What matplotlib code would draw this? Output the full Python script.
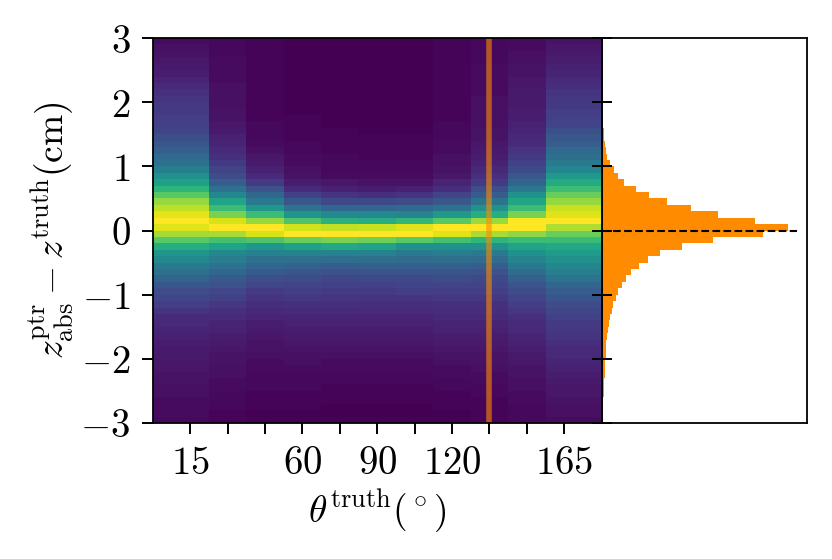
import numpy as np
import matplotlib
matplotlib.use("Agg")
import matplotlib.pyplot as plt

plt.rcParams['mathtext.fontset'] = 'cm'
plt.rcParams['font.family'] = 'serif'
plt.rcParams['font.serif'] = ['DejaVu Serif']

# theta bins (deg) and z residual bins (cm)
theta_edges = [0, 22.5, 37.5, 52.5, 67.5, 82.5, 97.5, 112.5, 127.5, 142.5, 157.5, 180]
dz_edges = np.linspace(-3, 3, 61)

# colour level of each cell, one list per theta bin, read from top (z=+3) to bottom (z=-3)
col1 = [0.03, 0.04, 0.05, 0.06, 0.07, 0.08, 0.10, 0.12, 0.14, 0.15,
        0.17, 0.17, 0.18, 0.19, 0.20, 0.24, 0.27, 0.30, 0.34, 0.37,
        0.42, 0.50, 0.57, 0.65, 0.74, 0.84, 0.90, 0.96, 1.00, 0.95,
        0.86, 0.74, 0.62, 0.52, 0.47, 0.41, 0.37, 0.32, 0.27, 0.23,
        0.21, 0.18, 0.15, 0.12, 0.11, 0.10,
        0.09, 0.08, 0.07, 0.07, 0.06, 0.06, 0.05, 0.05, 0.04, 0.04, 0.03, 0.03, 0.03, 0.02]
col2 = [0.02, 0.02, 0.02, 0.03, 0.03, 0.03, 0.03, 0.04, 0.04, 0.04,
        0.04, 0.05, 0.05, 0.06, 0.07, 0.09, 0.10, 0.12, 0.14, 0.17,
        0.20, 0.23, 0.29, 0.37, 0.46, 0.58, 0.68, 0.80, 0.94, 1.00,
        0.87, 0.70, 0.58, 0.47, 0.42, 0.37, 0.33, 0.28, 0.25, 0.21,
        0.19, 0.16, 0.14, 0.12, 0.10, 0.09,
        0.08, 0.07, 0.06, 0.05, 0.05, 0.04, 0.04, 0.03, 0.03, 0.02, 0.02, 0.02, 0.01, 0.01]
col3 = [0.01, 0.01, 0.01, 0.01, 0.01, 0.01, 0.01, 0.01, 0.01, 0.01,
        0.01, 0.01, 0.01, 0.02, 0.02, 0.02, 0.03, 0.04, 0.06, 0.07,
        0.09, 0.12, 0.17, 0.25, 0.33, 0.41, 0.53, 0.68, 0.84, 1.00,
        0.94, 0.72, 0.53, 0.44, 0.37, 0.33, 0.28, 0.24, 0.21, 0.17,
        0.15, 0.13, 0.11, 0.10, 0.08, 0.07,
        0.06, 0.05, 0.05, 0.04, 0.03, 0.03, 0.02, 0.02, 0.02, 0.01, 0.01, 0.01, 0.00, 0.00]
col4 = [0.00, 0.00, 0.00, 0.00, 0.00, 0.00, 0.00, 0.00, 0.00, 0.00,
        0.00, 0.00, 0.01, 0.01, 0.01, 0.01, 0.02, 0.02, 0.03, 0.03,
        0.04, 0.05, 0.08, 0.12, 0.19, 0.27, 0.38, 0.52, 0.72, 0.93,
        1.00, 0.77, 0.57, 0.45, 0.37, 0.31, 0.26, 0.23, 0.20, 0.18,
        0.16, 0.14, 0.12, 0.10, 0.09, 0.08,
        0.07, 0.06, 0.05, 0.04, 0.04, 0.03, 0.02, 0.02, 0.02, 0.01, 0.01, 0.01, 0.00, 0.00]
col5 = [0.00, 0.00, 0.00, 0.00, 0.00, 0.00, 0.00, 0.00, 0.00, 0.00,
        0.00, 0.00, 0.00, 0.00, 0.01, 0.01, 0.01, 0.01, 0.02, 0.02,
        0.02, 0.03, 0.06, 0.09, 0.15, 0.22, 0.33, 0.47, 0.64, 0.91,
        1.00, 0.80, 0.60, 0.44, 0.36, 0.29, 0.25, 0.21, 0.19, 0.17,
        0.15, 0.14, 0.12, 0.10, 0.09, 0.08,
        0.07, 0.06, 0.05, 0.04, 0.03, 0.03, 0.02, 0.02, 0.01, 0.01, 0.01, 0.00, 0.00, 0.00]
col6 = [0.00, 0.00, 0.00, 0.00, 0.00, 0.00, 0.00, 0.00, 0.00, 0.00,
        0.00, 0.00, 0.00, 0.00, 0.00, 0.01, 0.01, 0.01, 0.01, 0.02,
        0.02, 0.03, 0.05, 0.08, 0.14, 0.22, 0.33, 0.47, 0.62, 0.92,
        1.00, 0.78, 0.58, 0.44, 0.36, 0.30, 0.25, 0.22, 0.19, 0.17,
        0.15, 0.13, 0.12, 0.10, 0.09, 0.08,
        0.07, 0.06, 0.05, 0.04, 0.03, 0.03, 0.02, 0.02, 0.01, 0.01, 0.01, 0.00, 0.00, 0.00]
col7 = [0.00, 0.00, 0.00, 0.00, 0.00, 0.00, 0.00, 0.00, 0.00, 0.00,
        0.00, 0.00, 0.00, 0.00, 0.00, 0.01, 0.01, 0.01, 0.01, 0.02,
        0.02, 0.03, 0.05, 0.09, 0.15, 0.23, 0.34, 0.45, 0.66, 0.95,
        1.00, 0.74, 0.50, 0.41, 0.35, 0.30, 0.26, 0.22, 0.20, 0.18,
        0.15, 0.13, 0.12, 0.10, 0.09, 0.08,
        0.07, 0.06, 0.05, 0.04, 0.03, 0.03, 0.02, 0.02, 0.01, 0.01, 0.01, 0.00, 0.00, 0.00]
col8 = [0.01, 0.01, 0.01, 0.01, 0.01, 0.01, 0.01, 0.01, 0.01, 0.01,
        0.01, 0.01, 0.01, 0.02, 0.02, 0.02, 0.03, 0.03, 0.04, 0.04,
        0.05, 0.06, 0.10, 0.13, 0.20, 0.27, 0.38, 0.54, 0.74, 1.00,
        0.95, 0.70, 0.51, 0.42, 0.36, 0.30, 0.26, 0.23, 0.20, 0.18,
        0.16, 0.14, 0.13, 0.11, 0.10, 0.09,
        0.08, 0.07, 0.06, 0.05, 0.04, 0.03, 0.03, 0.02, 0.02, 0.01, 0.01, 0.01, 0.00, 0.00]
col9 = [0.02, 0.02, 0.02, 0.02, 0.03, 0.03, 0.03, 0.03, 0.03, 0.04,
        0.04, 0.04, 0.04, 0.04, 0.05, 0.05, 0.06, 0.07, 0.08, 0.09,
        0.11, 0.14, 0.17, 0.24, 0.29, 0.38, 0.50, 0.62, 0.85, 1.00,
        0.87, 0.65, 0.50, 0.41, 0.35, 0.29, 0.25, 0.22, 0.20, 0.18,
        0.16, 0.14, 0.13, 0.12, 0.10, 0.09,
        0.08, 0.07, 0.06, 0.05, 0.05, 0.04, 0.03, 0.03, 0.02, 0.02, 0.01, 0.01, 0.01, 0.01]
col10 = [0.03, 0.03, 0.04, 0.04, 0.05, 0.05, 0.06, 0.06, 0.07, 0.07,
         0.07, 0.08, 0.08, 0.09, 0.10, 0.11, 0.12, 0.15, 0.17, 0.19,
         0.22, 0.27, 0.32, 0.40, 0.50, 0.59, 0.68, 0.80, 1.00, 1.00,
         0.83, 0.68, 0.58, 0.51, 0.45, 0.40, 0.35, 0.30, 0.26, 0.23,
         0.20, 0.18, 0.16, 0.14, 0.12, 0.11,
         0.10, 0.09, 0.08, 0.07, 0.06, 0.05, 0.05, 0.04, 0.04, 0.03, 0.03, 0.02, 0.02, 0.02]
col11 = [0.05, 0.06, 0.07, 0.08, 0.09, 0.10, 0.12, 0.13, 0.15, 0.16,
         0.17, 0.18, 0.19, 0.20, 0.24, 0.27, 0.29, 0.34, 0.36, 0.41,
         0.46, 0.54, 0.61, 0.69, 0.77, 0.84, 0.92, 0.95, 1.00, 0.88,
         0.77, 0.68, 0.60, 0.55, 0.50, 0.46, 0.42, 0.38, 0.33, 0.29,
         0.26, 0.23, 0.21, 0.19, 0.17, 0.16,
         0.15, 0.13, 0.12, 0.11, 0.10, 0.09, 0.08, 0.07, 0.06, 0.06, 0.05, 0.04, 0.04, 0.03]

# projection on z residual, bins from -3 to 3 (arbitrary units)
side_counts = [0.6, 1.0, 1.4, 1.7, 2.0, 2.3, 2.7, 3.0, 3.4, 3.7,
               4.0, 4.3, 4.7, 5.3, 6.3, 7.3, 8.3, 10.0, 11.7, 14.0,
               16.0, 20.3, 24.3, 29.0, 37.0, 46.0, 58.0, 79.7, 111.0, 161.3,
               185.7, 153.0, 116.0, 88.7, 64.7, 47.0, 34.0, 22.3, 16.3, 12.0,
               8.7, 5.3, 4.0, 3.3, 2.7, 2.0, 1.0, 0, 0, 0,
               0, 0, 0, 0, 0, 0, 0, 0, 0, 0]

theta_cut = 135
x_ticks = [15, 30, 45, 60, 75, 90, 105, 120, 135, 150, 165]
x_labels = ['$15$', '', '', '$60$', '', '$90$', '', '$120$', '', '', '$165$']
y_ticks = [-3, -2, -1, 0, 1, 2, 3]

cols = [col1, col2, col3, col4, col5, col6, col7, col8, col9, col10, col11]
Z = np.array(cols).T[::-1]

fig = plt.figure(figsize=(8.32, 5.59), dpi=100)
ax = fig.add_axes([0.1835, 0.2433, 0.5397, 0.6887])
axh = fig.add_axes([0.7232, 0.2433, 0.2468, 0.6887])
ax.set_zorder(3)

ax.pcolormesh(theta_edges, dz_edges, Z, cmap='viridis', vmin=0, vmax=1)
ax.axvline(theta_cut, color='darkorange', alpha=0.6, lw=4)
ax.set_xlim(0, 180)
ax.set_ylim(-3, 3)
ax.set_xticks(x_ticks)
ax.set_xticklabels(x_labels)
ax.set_yticks(y_ticks)
ax.set_yticklabels(['$%d$' % v for v in y_ticks])
ax.tick_params(labelsize=28, width=1.4, length=8)
ax.tick_params(axis='y', pad=8, right=True)
ax.tick_params(axis='x', pad=8)
# ticks on the shared edge cross into the side panel
for t in ax.yaxis.get_major_ticks():
    t.tick2line.set_marker('_')
    t.tick2line.set_markersize(14)
ax.set_xlabel(r'$\theta^{\rm truth}(^\circ)$', fontsize=27, labelpad=4)
ax.set_ylabel(r'$z^{\rm ptr}_{\rm abs} - z^{\rm truth}({\rm cm})$', fontsize=27, labelpad=3)
for s in ax.spines.values():
    s.set_linewidth(1.3)

axh.barh(dz_edges[:-1], side_counts, height=0.1, align='edge', color='#ff8c00')
axh.plot([0, 1.05 * max(side_counts)], [0, 0], 'k--', lw=1.5)
axh.set_xlim(0, 205)
axh.set_ylim(-3, 3)
axh.tick_params(left=False, labelleft=False, bottom=False, labelbottom=False)
for s in axh.spines.values():
    s.set_linewidth(1.3)

fig.savefig('out.png', dpi=100)
